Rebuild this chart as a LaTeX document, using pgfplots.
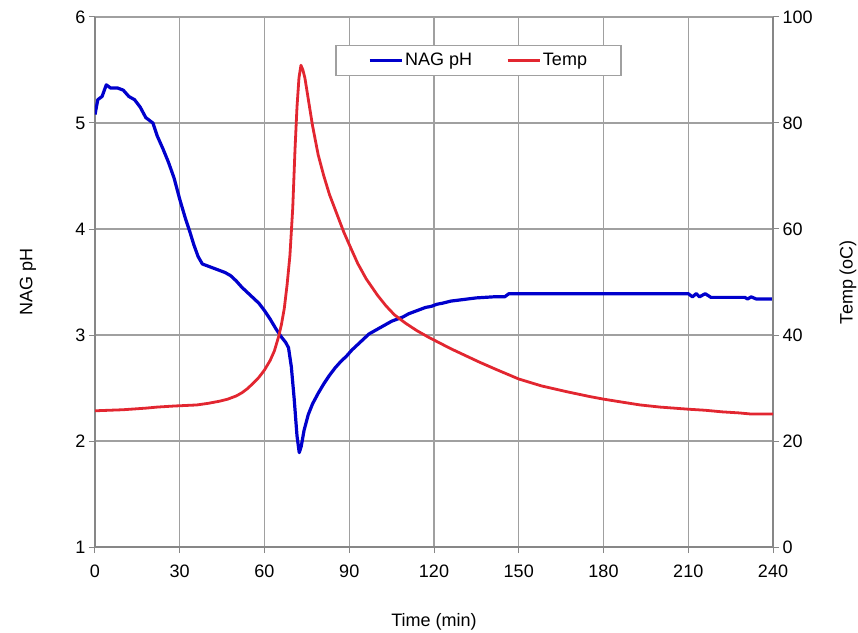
\documentclass[border=0pt]{standalone}
\usepackage{pgfplots}
\pgfplotsset{compat=1.18}
\usepackage{fontspec}
\setmainfont{Liberation Sans}
\definecolor{phblue}{RGB}{0,0,204}
\definecolor{tred}{RGB}{226,38,48}
\definecolor{gridgray}{RGB}{160,160,160}
\definecolor{axgray}{RGB}{135,135,135}
\begin{document}
\begin{tikzpicture}
\useasboundingbox (-95pt,-85pt) rectangle (763pt,547pt);
\pgfplotsset{
 every axis/.append style={
  scale only axis, width=678pt, height=530pt,
  anchor=south west, at={(0pt,0pt)},
  xmin=0, xmax=240,
  font=\fontsize{18}{21}\selectfont,
  /pgf/number format/assume math mode=true,
  axis line style={axgray, line width=1.3pt},
  tick style={axgray, line width=1pt},
  major tick length=6pt,
  tick align=outside,
 }
}
\begin{axis}[
  axis y line*=left, axis x line*=bottom,
  ymin=1, ymax=6, ytick={1,2,3,4,5,6},
  xtick={0,30,...,240},
  grid=major, grid style={gridgray, line width=1.4pt},
  xlabel={Time (min)}, ylabel={NAG pH},
  xlabel style={at={(axis description cs:0.5,-0.1415)}, anchor=center},
  ylabel style={at={(axis description cs:-0.099,0.5)}, anchor=center},
  xticklabel style={yshift=-8pt},
]
\addplot[phblue, line width=3.2pt, line join=round] coordinates {
(0,5.08) (1,5.22) (2.5,5.25) (4,5.36) (5.5,5.33) (8,5.33) (10,5.31) (12,5.25)
(14,5.22) (16,5.15) (18,5.05) (20.5,5.0) (22,4.88) (24,4.76) (26,4.63) (28,4.48)
(30,4.28) (32,4.10) (33.5,3.98) (35,3.85) (36.5,3.74) (38,3.67) (40,3.65) (42,3.63)
(44,3.61) (46,3.59) (48,3.56) (50,3.51) (52,3.45) (54,3.40) (56,3.35) (58,3.30)
(60,3.23) (62,3.15) (64,3.06) (66,2.98) (67.5,2.93) (68.5,2.88) (69.5,2.70) (70.5,2.40)
(71.5,2.05) (72.3,1.89) (73,1.95) (74,2.10) (75.5,2.25) (77,2.35) (79,2.45) (81,2.54)
(83,2.62) (85,2.69) (87,2.75) (89,2.80) (91,2.86) (93,2.91) (95,2.96) (97,3.01)
(99,3.04) (101,3.07) (103,3.10) (105,3.13) (107,3.15) (109,3.17) (111,3.20) (113,3.22)
(115,3.24) (117,3.26) (119,3.27) (121,3.29) (123,3.30) (126,3.32) (129,3.33) (132,3.34)
(135,3.35) (138,3.355) (141,3.36) (145,3.36) (146.5,3.39) (210,3.39) (211.5,3.36) (212.8,3.39)
(214,3.36) (216,3.39) (218,3.355) (230,3.355) (231,3.34) (232.3,3.36) (234,3.34) (240,3.34)
};
\end{axis}
\begin{axis}[
  axis y line*=right, axis x line=none,
  ymin=0, ymax=100, ytick={0,20,...,100},
  ylabel={Temp (oC)},
  ylabel style={at={(axis description cs:1.1106,0.5)}, anchor=center},
  legend columns=2,
  legend cell align=left,
  legend image code/.code={\draw[#1] (0pt,0pt) -- (32pt,0pt);},
  legend style={at={(axis description cs:0.5656,0.918)}, anchor=center,
    draw=gridgray, line width=1.3pt, fill=white, inner xsep=32pt, inner ysep=6pt,
    nodes={inner sep=2pt},
    /tikz/every even column/.append style={column sep=32pt}},
]
\addlegendimage{phblue, line width=3.2pt}
\addlegendentry{NAG pH}
\addplot[tred, line width=2.8pt, line join=round] coordinates {
(0,25.7) (5,25.8) (10,25.9) (18,26.2) (22,26.4) (28,26.6) (36,26.8) (40,27.1)
(44,27.5) (47,27.9) (50,28.5) (52,29.1) (54,29.9) (56,30.9) (58,32.0) (60,33.4)
(62,35.2) (63.5,37.0) (65,39.7) (66,42.0) (67,45.0) (68,49.5) (69,55.0) (70,64)
(70.8,75) (71.5,83) (72.2,88.5) (72.9,90.9) (73.6,90.0) (74.3,88.5) (75.5,84.5) (77,79.5)
(79,74.0) (81,70.0) (83,66.5) (85.5,63) (88,59.5) (90.3,56.7) (93,53.5) (96,50.6)
(100,47.5) (103,45.5) (106,43.8) (110,42.2) (114,40.8) (118,39.6) (122,38.5) (126,37.4)
(130,36.4) (136,34.9) (142,33.5) (150,31.7) (158,30.4) (167,29.3) (175,28.4) (180,27.9)
(187,27.3) (193,26.8) (200,26.4) (210,26.0) (216,25.8) (222,25.5) (228,25.3) (232,25.1)
(240,25.1)
};
\addlegendentry{Temp}
\end{axis}
\end{tikzpicture}
\end{document}
